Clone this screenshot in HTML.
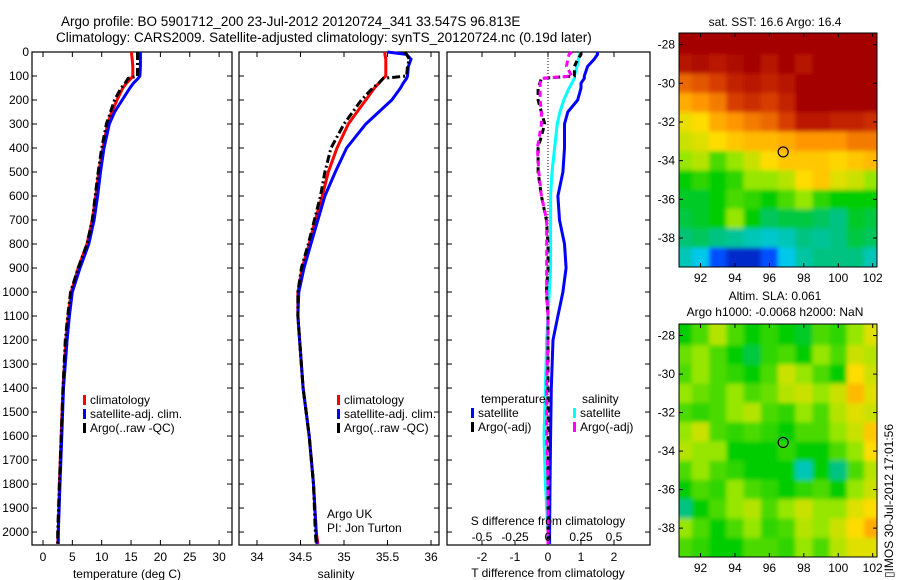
<!DOCTYPE html>
<html><head><meta charset="utf-8"><style>
body{margin:0;background:#fff}
svg{display:block;font-family:"Liberation Sans",sans-serif;font-size:12px}
</style></head><body>
<svg id="c" width="900" height="580" xmlns="http://www.w3.org/2000/svg">
<defs>
<clipPath id="cm1"><rect x="679" y="33" width="198" height="234"/></clipPath>
<clipPath id="cm2"><rect x="679" y="324" width="198" height="233"/></clipPath>
<filter id="bl" x="-5%" y="-5%" width="110%" height="110%"><feGaussianBlur stdDeviation="2"/></filter>
</defs>
<text x="61" y="26" font-size="13.5">Argo profile: BO 5901712_200 23-Jul-2012 20120724_341 33.547S 96.813E</text>
<text x="56" y="42" font-size="13.5">Climatology: CARS2009. Satellite-adjusted climatology: synTS_20120724.nc (0.19d later)</text>
<text x="775" y="26" text-anchor="middle">sat. SST: 16.6 Argo: 16.4</text>
<text x="775" y="300" text-anchor="middle">Altim. SLA: 0.061</text>
<text x="775" y="316" text-anchor="middle">Argo h1000: -0.0068 h2000: NaN</text>
<text transform="translate(893,578) rotate(-90)">▯IMOS 30-Jul-2012 17:01:56</text>
<g id="g"></g>
</svg>
<script>
// ---- data ----
const depths=[0,10,30,60,100,110,130,150,200,250,300,400,500,600,700,800,900,1000,1100,1200,1400,1600,1800,2000,2050];
const tClim=[15.1,15.1,15.2,15.3,15.3,15.0,14.2,13.6,12.6,11.7,11.0,10.2,9.5,9.0,8.4,7.5,6.0,4.8,4.3,3.9,3.4,3.1,2.8,2.6,2.5];
const tSat=[16.6,16.6,16.6,16.6,16.5,16.2,15.4,14.8,13.5,12.2,11.3,10.4,9.8,9.3,8.7,7.8,6.3,5.0,4.5,4.1,3.5,3.2,2.9,2.6,2.6];
const tArgo=[16.1,16.1,16.1,16.1,16.1,14.5,14.0,13.3,12.2,11.5,10.8,10.0,9.4,8.9,8.4,7.5,6.0,4.7,4.2,3.8,3.4,3.1,2.8,2.5,2.5];
const sClim=[35.47,35.47,35.48,35.48,35.48,35.45,35.4,35.35,35.25,35.15,35.05,34.92,34.82,34.75,34.67,34.6,34.52,34.47,34.47,34.49,34.53,34.6,34.65,34.68,34.7];
const sSat=[35.5,35.72,35.77,35.74,35.73,35.72,35.68,35.65,35.55,35.4,35.25,35.03,34.9,34.78,34.7,34.62,34.54,34.48,34.47,34.49,34.53,34.6,34.65,34.68,34.69];
const sArgo=[35.7,35.72,35.75,35.73,35.72,35.45,35.4,35.33,35.2,35.1,35.0,34.85,34.78,34.73,34.66,34.59,34.51,34.47,34.47,34.49,34.53,34.6,34.65,34.67,34.68];
const dTSat=[1.5,1.5,1.4,1.2,1.1,1.1,1.0,1.0,0.9,0.6,0.5,0.5,0.45,0.3,0.35,0.5,0.55,0.45,0.3,0.15,0.1,0.08,0.06,0.05,0.05];
const dSSat=[0.25,0.24,0.23,0.22,0.2,0.2,0.18,0.16,0.12,0.09,0.07,0.05,0.03,0.02,0.02,0.02,0.02,0.01,0.0,-0.01,-0.02,-0.03,-0.02,0.0,0.0];
const dTArgo=[1.0,1.0,0.9,0.8,0.8,-0.2,-0.25,-0.3,-0.3,-0.2,-0.1,-0.3,-0.3,-0.2,-0.05,0.0,0.0,-0.05,0.0,0.0,0.0,0.0,0.0,0.0,0.0];
const dSArgo=[0.18,0.16,0.15,0.14,0.18,-0.05,-0.06,-0.06,-0.06,-0.05,-0.05,-0.08,-0.07,-0.05,-0.01,-0.01,-0.01,-0.01,0.0,0.0,-0.01,-0.01,0.0,0.0,0.0];
const depthTicks=[0,100,200,300,400,500,600,700,800,900,1000,1100,1200,1300,1400,1500,1600,1700,1800,1900,2000];
const tTicks=[0,5,10,15,20,25,30];
const sTicks=[34,34.5,35,35.5,36];
const dTTicks=[-2,-1,0,1,2];
const dSTicks=["-0.5","-0.25","0","0.25","0.5"];
const mapLons=[92,94,96,98,100,102];
const mapLats=[-28,-30,-32,-34,-36,-38];
const gridLats=[-28,-29,-30,-31,-32,-33,-34,-35,-36,-37,-38,-39];
const gridLons=[91,92,93,94,95,96,97,98,99,100,101,102];
const sstGrid=[
[0.97,0.97,0.97,0.97,0.97,0.97,0.97,0.97,0.97,0.97,0.97,0.97],
[0.93,0.95,0.92,0.95,0.97,0.93,0.97,0.93,0.97,0.97,0.97,0.97],
[0.8,0.82,0.85,0.9,0.92,0.9,0.93,0.97,0.97,0.97,0.97,0.97],
[0.72,0.75,0.78,0.85,0.88,0.85,0.9,0.97,0.97,0.97,0.97,0.97],
[0.63,0.65,0.72,0.75,0.78,0.8,0.85,0.92,0.92,0.9,0.9,0.88],
[0.6,0.62,0.65,0.68,0.7,0.7,0.72,0.75,0.75,0.75,0.78,0.78],
[0.55,0.58,0.5,0.55,0.6,0.65,0.68,0.68,0.68,0.66,0.68,0.7],
[0.45,0.48,0.45,0.48,0.55,0.55,0.58,0.65,0.68,0.62,0.6,0.55],
[0.42,0.42,0.45,0.5,0.48,0.45,0.5,0.55,0.48,0.45,0.45,0.45],
[0.4,0.42,0.45,0.55,0.45,0.38,0.4,0.4,0.38,0.35,0.42,0.4],
[0.36,0.38,0.35,0.33,0.3,0.28,0.3,0.35,0.33,0.35,0.4,0.38],
[0.3,0.25,0.15,0.08,0.08,0.15,0.25,0.32,0.35,0.35,0.35,0.3]];
const slaGrid=[
[0.45,0.5,0.58,0.5,0.45,0.48,0.45,0.42,0.5,0.48,0.55,0.62],
[0.52,0.55,0.5,0.45,0.4,0.48,0.5,0.45,0.55,0.5,0.6,0.58],
[0.5,0.55,0.5,0.48,0.45,0.5,0.6,0.55,0.5,0.45,0.65,0.6],
[0.55,0.52,0.5,0.55,0.5,0.52,0.58,0.6,0.55,0.6,0.7,0.62],
[0.5,0.48,0.5,0.55,0.58,0.5,0.48,0.55,0.5,0.58,0.62,0.6],
[0.55,0.6,0.5,0.48,0.5,0.48,0.45,0.5,0.5,0.55,0.6,0.68],
[0.58,0.55,0.55,0.45,0.45,0.45,0.48,0.45,0.45,0.5,0.55,0.65],
[0.5,0.55,0.5,0.48,0.45,0.45,0.45,0.3,0.45,0.35,0.5,0.58],
[0.45,0.5,0.48,0.55,0.5,0.48,0.45,0.48,0.5,0.45,0.55,0.6],
[0.35,0.45,0.5,0.55,0.58,0.5,0.55,0.6,0.55,0.55,0.62,0.65],
[0.55,0.5,0.45,0.5,0.55,0.48,0.5,0.58,0.55,0.6,0.65,0.72],
[0.5,0.48,0.45,0.45,0.5,0.5,0.48,0.55,0.5,0.58,0.62,0.62]];
const argoLon=[96.8];
const argoLat=[-33.55];

// ---- drawing ----
const NS='http://www.w3.org/2000/svg';
const G=document.getElementById('g');
function el(t,a,p){const e=document.createElementNS(NS,t);for(const k in a)e.setAttribute(k,a[k]);(p||G).appendChild(e);return e;}
const Y0=52,Y1=545;
const yD=d=>Y0+(Y1-Y0)*d/2054;
const xT=v=>43+5.87*v;
const xS=v=>257+87*(v-34);
const xDT=v=>548+33*v;
const xDS=v=>548+132*v;
function poly(xs,xf,col,dash,name,w){
  const pts=xs.map((v,i)=>xf(v).toFixed(1)+','+yD(depths[i]).toFixed(1)).join(' ');
  const a={points:pts,fill:'none',stroke:col,'stroke-width':w||3};
  if(dash)a['stroke-dasharray']=dash;
  const p=el('polyline',a);
  
  
}
function frame(x0,x1,name){
  const r=el('rect',{x:x0,y:Y0,width:x1-x0,height:Y1-Y0,fill:'none',stroke:'#000','stroke-width':1.2});
  
  
}
function ticksY(x0,x1,labels){
  depthTicks.forEach(d=>{
    const y=yD(d);
    el('line',{x1:x0,x2:x0+5,y1:y,y2:y,stroke:'#000'});
    el('line',{x1:x1-5,x2:x1,y1:y,y2:y,stroke:'#000'});
    if(labels){const t=el('text',{x:x0-3,y:y+4,'text-anchor':'end'});t.textContent=d;
      
      }
  });
}
function ticksX(vals,xf,labs,yl){
  vals.forEach((v,i)=>{const x=xf(v);
    el('line',{x1:x,x2:x,y1:Y0,y2:Y0+5,stroke:'#000'});
    el('line',{x1:x,x2:x,y1:Y1-5,y2:Y1,stroke:'#000'});
    if(labs){const t=el('text',{x:x,y:yl,'text-anchor':'middle'});t.textContent=labs[i];
      
      }
  });
}
function txt(x,y,s,name,anchor){const t=el('text',{x:x,y:y,'text-anchor':anchor||'start'});t.textContent=s;
  
  return t;}
function legend(x,y,items,name){
  items.forEach((it,i)=>{
    el('rect',{x:x,y:y+i*14-9,width:3,height:10,fill:it[1]});
    txt(x+7,y+i*14,it[0],name);
  });
}
// panel 1
frame(32,232,'temperature-panel');
ticksY(32,232,true);
ticksX(tTicks,xT,tTicks,561);
poly(tClim,xT,'#f00',null,'temp-climatology-line');
poly(tSat,xT,'#00f',null,'temp-satellite-line');
poly(tArgo,xT,'#000','8,3,2,3','temp-argo-line');
txt(127,578,'temperature (deg C)','x-axis-title-temperature','middle');
legend(83,404,[['climatology','#f00'],['satellite-adj. clim.','#00f'],['Argo(..raw -QC)','#000']],'temp-legend-entry');
// panel 2
frame(239,439,'salinity-panel');
ticksY(239,439,false);
ticksX(sTicks,xS,sTicks,561);
poly(sClim,xS,'#f00',null,'sal-climatology-line');
poly(sSat,xS,'#00f',null,'sal-satellite-line');
poly(sArgo,xS,'#000','8,3,2,3','sal-argo-line');
txt(336,578,'salinity','x-axis-title-salinity','middle');
legend(337,404,[['climatology','#f00'],['satellite-adj. clim.','#00f'],['Argo(..raw -QC)','#000']],'sal-legend-entry');
txt(327,518,'Argo UK','argo-uk-label');
txt(327,532,'PI: Jon Turton','pi-label');
// panel 3
frame(447,650,'difference-panel');
ticksY(447,650,false);
ticksX(dTTicks,xDT,dTTicks,561);
el('line',{x1:xDT(0),x2:xDT(0),y1:Y0,y2:Y1,stroke:'#000','stroke-dasharray':'1,2'});
poly(dSSat,xDS,'#0ff',null,'s-diff-satellite-line');
poly(dTSat,xDT,'#00f',null,'t-diff-satellite-line');
poly(dTArgo,xDT,'#000','6,4','t-diff-argo-line');
poly(dSArgo,xDS,'#f0f','6,4','s-diff-argo-line');
dSTicks.forEach((s,i)=>{txt(xDS(parseFloat(s)),541,s,'s-tick-label','middle');});
txt(548,525,'S difference from climatology','s-axis-title','middle');
txt(548,577,'T difference from climatology','t-axis-title','middle');
txt(481,403,'temperature','temp-legend-title');
txt(582,403,'salinity','sal-legend-title');
legend(471,417,[['satellite','#00f'],['Argo(-adj)','#000']],'tdiff-legend-entry');
legend(573,417,[['satellite','#0ff'],['Argo(-adj)','#f0f']],'sdiff-legend-entry');
// maps: custom colormap stops (appearance only)
const cmStops=[[0,[0,0,140]],[0.15,[0,80,255]],[0.25,[0,200,235]],[0.35,[0,195,130]],[0.45,[0,205,0]],[0.55,[150,230,0]],[0.65,[255,220,0]],[0.75,[255,150,0]],[0.85,[215,60,0]],[0.97,[165,0,0]],[1,[160,0,0]]];
function cmap(v){v=Math.max(0,Math.min(1,v));
  for(let i=1;i<cmStops.length;i++){if(v<=cmStops[i][0]){const a=cmStops[i-1],b=cmStops[i],f=(v-a[0])/(b[0]-a[0]);
    const c=a[1].map((x,k)=>Math.round(x+(b[1][k]-x)*f));return `rgb(${c[0]},${c[1]},${c[2]})`;}}
  return 'rgb(160,0,0)';}
function map(grid,top,bot,clip,name){
  const lx=l=>679+(l-90.75)*198/11.5;
  const ly=l=>top+(-27.4-l)*(bot-top)/12.1;
  const g=el('g',{'clip-path':`url(#${clip})`});
  
  
  const inner=el('g',{filter:'url(#bl)'},g);
  const cw=198/11.5,ch=(bot-top)/12.1;
  el('rect',{x:660,y:top-20,width:240,height:bot-top+40,fill:cmap(grid[0][0])},inner);
  grid.forEach((row,i)=>row.forEach((v,j)=>{
    const c=el('rect',{x:lx(gridLons[j])-cw/2-(j==0?10:0),y:ly(gridLats[i])-ch/2-(i==0?12:0),width:cw+1+(j==0||j==11?10:0),height:ch+1+(i==0||i==11?12:0),fill:cmap(v)},inner);
    
    
  }));
  el('rect',{x:679,y:top,width:198,height:bot-top,fill:'none',stroke:'#000'});
  mapLons.forEach(l=>{const x=lx(l);el('line',{x1:x,x2:x,y1:top,y2:top+4,stroke:'#000'});el('line',{x1:x,x2:x,y1:bot-4,y2:bot,stroke:'#000'});
    txt(x,bot+15,String(l),'map-lon-label','middle');});
  mapLats.forEach(l=>{const y=ly(l);el('line',{x1:679,x2:683,y1:y,y2:y,stroke:'#000'});el('line',{x1:873,x2:877,y1:y,y2:y,stroke:'#000'});
    txt(675,y+4,String(l),'map-lat-label','end');});
  const m=el('circle',{cx:lx(argoLon[0]),cy:ly(argoLat[0]),r:5,fill:'none',stroke:'#000','stroke-width':1.2});
  
  
}
map(sstGrid,33,267,'cm1','sst-map');
map(slaGrid,324,557,'cm2','sla-map');
</script>
</body></html>
